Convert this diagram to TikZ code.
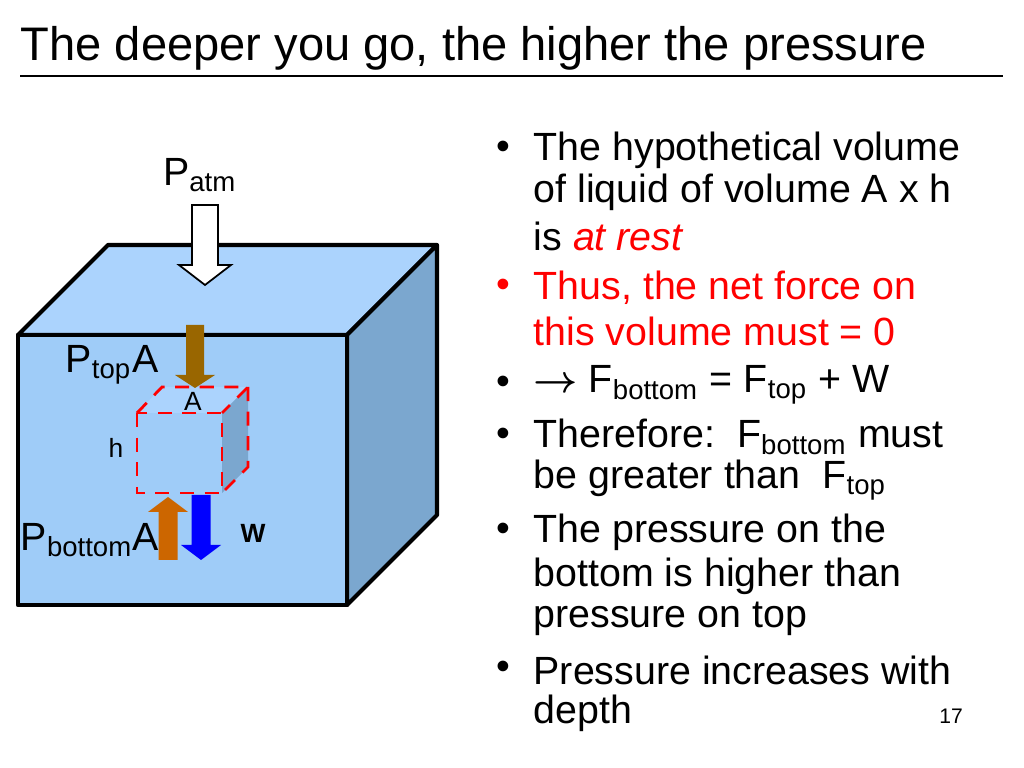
\documentclass[tikz,border=0pt]{standalone}
\usepackage{amsmath}
\usepackage{fontspec}
\setmainfont{Liberation Sans}
\usetikzlibrary{arrows.meta}
\definecolor{frontblue}{HTML}{9FCCF8}
\definecolor{topblue}{HTML}{ABD3FD}
\definecolor{sideblue}{HTML}{7BA7CF}
\definecolor{topbrown}{HTML}{996600}
\definecolor{botorange}{HTML}{CC6600}
\newcommand{\blockarrow}[6]{% x, ytail, yhead base, ytip, half shaft, half head
  (#1-#5,#2) -- (#1+#5,#2) -- (#1+#5,#3) -- (#1+#6,#3) -- (#1,#4) -- (#1-#6,#3) -- (#1-#5,#3) -- cycle}
\begin{document}
\begin{tikzpicture}[x=0.1mm,y=-0.1mm,
  body/.style={font=\fontsize{11.2}{13}\selectfont, anchor=west, inner sep=0},
  lbl/.style={font=\fontsize{11.2}{13}\selectfont, inner sep=0},
  tank/.style={draw=black, line width=1.2pt, line join=round},
  probe/.style={draw=red, line width=0.8pt, dash pattern=on 4pt off 3pt}]
\useasboundingbox (0,0) rectangle (1024,768);
% title
\node[font=\fontsize{13.4}{15}\selectfont, anchor=west, inner sep=0] (title) at (20,48) {The deeper you go, the higher the pressure};
\draw[line width=0.6pt] (20,76) -- (1003,76);
% tank
\draw[tank, fill=topblue] (18,335) -- (108,245) -- (437,245) -- (347,335) -- cycle;
\draw[tank, fill=sideblue] (347,335) -- (437,245) -- (437,515) -- (347,605) -- cycle;
\draw[tank, fill=frontblue] (18,335) rectangle (347,605);
% hypothetical volume
\fill[topblue] (137,413) -- (162,387) -- (248,387) -- (222,413) -- cycle;
\fill[sideblue] (222,413) -- (248,387) -- (248,467) -- (222,493) -- cycle;
\draw[probe] (137,413) -- (162,387) -- (248,387) -- (222,413);
\draw[probe] (248,387) -- (248,467) -- (222,493);
\draw[probe] (137,413) rectangle (222,493);
% arrows
\draw[black, fill=white, line width=0.5pt] \blockarrow{205}{205}{265}{285}{13}{26};
\fill[topbrown] \blockarrow{195}{325}{375}{388}{9}{20};
\fill[botorange] \blockarrow{168}{560}{512}{497}{9.5}{20};
\fill[blue] \blockarrow{201}{495}{545}{560}{9.5}{20};
% labels
\node[lbl] (patm) at (200,175) {P\textsubscript{atm}};
\node[lbl] (ptop) at (112,365) {P\textsubscript{top}A};
\node[lbl, font=\fontsize{7.5}{9}\selectfont] (area) at (193,401) {A};
\node[lbl, font=\fontsize{7.5}{9}\selectfont] (height) at (116,448) {h};
\node[lbl] (pbot) at (90,540) {P\textsubscript{bottom}A};
\node[lbl, font=\fontsize{7.5}{9}\selectfont\bfseries] (weight) at (253,533) {W};
% bullets
\foreach \y/\c in {150/black, 288/red, 385/black, 437/black, 532/black, 670/black}
  \node[body, text=\c] at (496,\y) {•};
\foreach \y/\t in {150/The hypothetical volume, 192/of liquid of volume A x h,
  236/is \textcolor{red}{\itshape at rest}, 288/\textcolor{red}{Thus, the net force on},
  331/\textcolor{red}{this volume must = 0},
  385/{$\boldsymbol{\rightarrow}$ F\textsubscript{bottom} = F\textsubscript{top} + W},
  437/Therefore:\ \ F\textsubscript{bottom} must, 480/be greater than\ \ F\textsubscript{top},
  532/The pressure on the, 576/bottom is higher than, 619/pressure on top,
  670/Pressure increases with, 713/depth}
  \node[body] at (533,\y) {\t};
\node[lbl, font=\fontsize{6}{7}\selectfont] (page) at (951,716) {17};
\end{tikzpicture}
\end{document}
